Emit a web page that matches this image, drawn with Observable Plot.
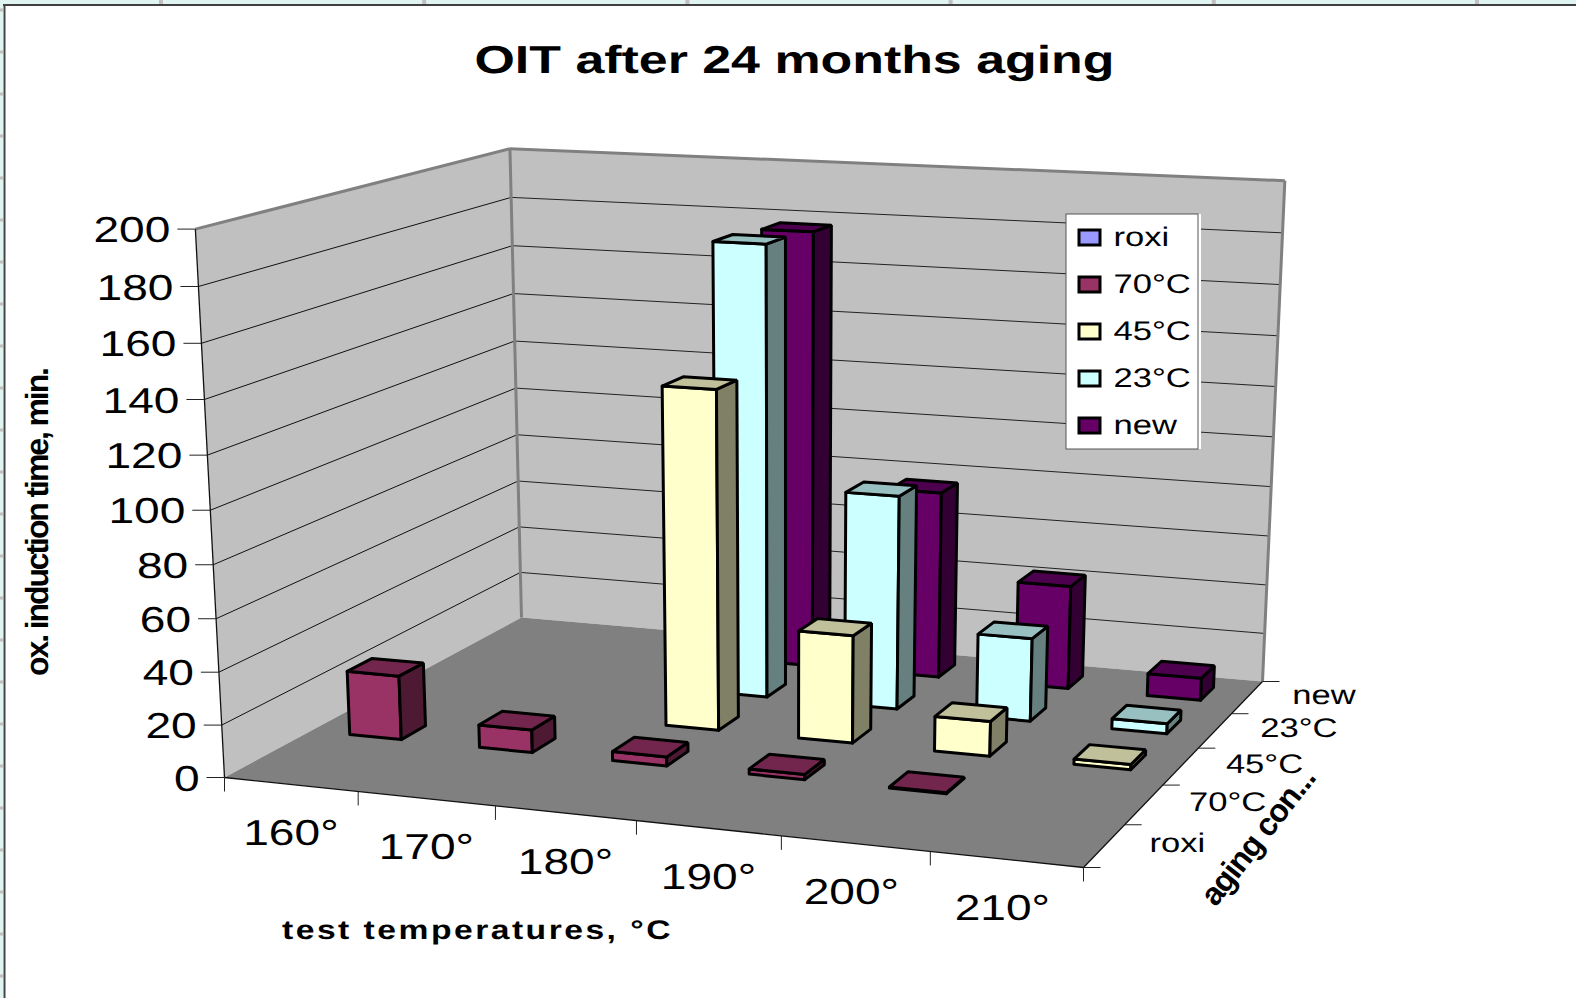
<!DOCTYPE html>
<html><head><meta charset="utf-8">
<style>html,body{margin:0;padding:0;background:#fff;overflow:hidden}svg{display:block;text-rendering:geometricPrecision}</style>
<script src="https://cdn.jsdelivr.net/npm/d3@7"></script>
<script src="https://cdn.jsdelivr.net/npm/@observablehq/plot@0.6"></script>
</head><body><div id="chart"></div>
<script>
// ---- data ----
const temperatures = ["160°","170°","180°","190°","200°","210°"];
const seriesNames  = ["roxi","70°C","45°C","23°C","new"];
const roxi = [null,null,null,null,null,null];
const c70  = [25,8.8,3.5,2,0.4,null];
const c45  = [null,null,132,42,13.5,2];
const c23  = [null,null,179,85,33,4];
const cNew = [null,null,177,76,42,9];
const seriesValues = [roxi,c70,c45,c23,cNew];
const yTicks = [0,20,40,60,80,100,120,140,160,180,200];
const seriesColors = ["#9999FF","#993366","#FFFFCC","#CCFFFF","#660066"];
const topColors    = ["#7373C0","#73264D","#C0C09A","#99C0C0","#4D004D"];
const sideColors   = ["#4D4D80","#4D1933","#808066","#668080","#330033"];

// ---- camera: where the plot cube's corners fall on the page ----
const floorFL=[224,777], floorFR=[1083,867], floorBR=[1262,681], floorBL=[521,617];
const topFL=[194,229], topBL=[510.5,148], topBR=[1284,180];
const yMax=200, barShare=0.4;
const cam=(()=>{
  const [x0,y0]=floorFL,[x1,y1]=floorFR,[x2,y2]=floorBR,[x3,y3]=floorBL;
  const dx1=x1-x2,dx2=x3-x2,sx=x0-x1+x2-x3,dy1=y1-y2,dy2=y3-y2,sy=y0-y1+y2-y3;
  const den=dx1*dy2-dx2*dy1, g=(sx*dy2-dx2*sy)/den, h=(dx1*sy-sx*dy1)/den;
  const a=x1-x0+g*x1,b=x3-x0+h*x3,d=y1-y0+g*y1,e=y3-y0+h*y3;
  const rows=[],rhs=[];
  [[0,0,topFL],[0,1,topBL],[1,1,topBR]].forEach(([u,v,[X,Y]])=>{
    const W=g*u+h*v+1;
    rows.push([1,0,-X]);rhs.push(X*W-(a*u+b*v+x0));
    rows.push([0,1,-Y]);rhs.push(Y*W-(d*u+e*v+y0));
  });
  const A=[0,1,2].map(i=>[0,1,2].map(j=>d3.sum(rows,r=>r[i]*r[j])));
  const B=[0,1,2].map(i=>d3.sum(rows,(r,k)=>r[i]*rhs[k]));
  const det=m=>m[0][0]*(m[1][1]*m[2][2]-m[1][2]*m[2][1])-m[0][1]*(m[1][0]*m[2][2]-m[1][2]*m[2][0])+m[0][2]*(m[1][0]*m[2][1]-m[1][1]*m[2][0]);
  const D=det(A);
  const sol=[0,1,2].map(c=>det(A.map((r,i)=>r.map((q,j)=>j===c?B[i]:q)))/D);
  return {a,b,d,e,g,h,x0,y0,cx:sol[0],cy:sol[1],cw:sol[2]};
})();
function P(u,v,val){
  const t=val/yMax, w=cam.g*u+cam.h*v+cam.cw*t+1;
  return [(cam.a*u+cam.b*v+cam.cx*t+cam.x0)/w,(cam.d*u+cam.e*v+cam.cy*t+cam.y0)/w];
}

// ---- polygons ----
const polys=[];
function face(id,fill,corners){
  [...corners,corners[0],corners[1]].forEach(c=>{const [x,y]=P(...c);polys.push({id,fill,x,y});});
}
const nT=temperatures.length,nS=seriesNames.length;
for(let j=nS-1;j>=0;j--){
  for(let i=0;i<nT;i++){
    const val=seriesValues[j][i]; if(val==null) continue;
    const u0=(i+.5-barShare/2)/nT,u1=(i+.5+barShare/2)/nT,v0=(j+.5-barShare/2)/nS,v1=(j+.5+barShare/2)/nS;
    face(`f${j}${i}`,seriesColors[j],[[u0,v0,0],[u1,v0,0],[u1,v0,val],[u0,v0,val]]);
    face(`s${j}${i}`,sideColors[j],[[u1,v0,0],[u1,v1,0],[u1,v1,val],[u1,v0,val]]);
    face(`t${j}${i}`,topColors[j],[[u0,v0,val],[u1,v0,val],[u1,v1,val],[u0,v1,val]]);
  }
}
const link=(pts)=>({x1:pts[0][0],y1:pts[0][1],x2:pts[1][0],y2:pts[1][1]});
const gridLeft=yTicks.slice(1,-1).map(t=>link([P(0,0,t),P(0,1,t)]));
const gridBack=yTicks.slice(1,-1).map(t=>link([P(0,1,t),P(1,1,t)]));
const wallEdges=[link([P(0,0,yMax),P(0,1,yMax)]),link([P(0,1,yMax),P(1,1,yMax)]),link([P(0,1,0),P(0,1,yMax)]),link([P(1,1,0),P(1,1,yMax)])];
const floorEdges=[link([P(0,0,0),P(1,0,0)]),link([P(1,0,0),P(1,1,0)]),link([P(0,0,0),P(0,0,yMax)])];
const yTickData=yTicks.map(t=>{const [x,y]=P(0,0,t);return {t,x,y};});
const xTickData=d3.range(nT+1).map(i=>{const [x,y]=P(i/nT,0,0);return {x,y};});
const zTickData=d3.range(nS+1).map(j=>{const [x,y]=P(1,j/nS,0);return {x,y};});
const xLabels=temperatures.map((s,i)=>{const [x,y]=P((i+.5)/nT,0,0);return {s,x:i>=4?x-4:x,y};});
const zLabels=seriesNames.map((s,j)=>{const [x,y]=P(1,(j+.5)/nS,0);return {s,x,y};});
const wallPoly=[];
[["L",[[0,0,0],[0,1,0],[0,1,yMax],[0,0,yMax]]],["B",[[0,1,0],[1,1,0],[1,1,yMax],[0,1,yMax]]]].forEach(([id,c])=>c.forEach(q=>{const [x,y]=P(...q);wallPoly.push({id,x,y});}));
const floorPoly=[[0,0,0],[1,0,0],[1,1,0],[0,1,0]].map(q=>{const [x,y]=P(...q);return {x,y};});

// ---- legend ----
const legendBox={x1:1066,x2:1198,y1:214,y2:449};
const legendRows=seriesNames.map((s,k)=>({s,fill:seriesColors[k],y:237+47*k}));
const topMarks=d3.range(6).map(k=>161+263.2*k), leftMarks=d3.range(24).map(k=>10+42*k);

const pos={x:{domain:[0,1576],range:[0,1576],axis:null},y:{domain:[0,998],range:[0,998],axis:null}};
const F="Liberation Sans";
const svg=Plot.plot({
  width:1576,height:998,margin:0,...pos,
  style:{fontFamily:F,background:"#fff",color:"#000"},
  marks:[
    // window chrome
    Plot.rect([0],{x1:0,x2:1576,y1:0,y2:4,fill:"#E0F5F1"}),
    Plot.rect([0],{x1:0,x2:3,y1:0,y2:998,fill:"#E0F5F1"}),
    Plot.rect(topMarks,{x1:d=>d-2,x2:d=>d+2,y1:0,y2:4,fill:"#C4BFBF"}),
    Plot.rect(leftMarks,{x1:0,x2:3,y1:d=>d-1.5,y2:d=>d+1.5,fill:"#C4BFBF"}),
    Plot.ruleY([4.5],{x1:3,x2:1576,stroke:"#000",strokeWidth:1.5}),
    Plot.ruleX([4],{y1:4,y2:998,stroke:"#444",strokeWidth:2}),
    // walls, floor
    Plot.line(wallPoly,{x:"x",y:"y",z:"id",fill:"#C0C0C0",stroke:"none"}),
    Plot.line(floorPoly,{x:"x",y:"y",fill:"#808080",stroke:"none"}),
    Plot.link(gridLeft,{x1:"x1",y1:"y1",x2:"x2",y2:"y2",stroke:"#111",strokeWidth:1}),
    Plot.link(gridBack,{x1:"x1",y1:"y1",x2:"x2",y2:"y2",stroke:"#222",strokeWidth:1}),
    Plot.link(wallEdges,{x1:"x1",y1:"y1",x2:"x2",y2:"y2",stroke:"#808080",strokeWidth:3}),
    Plot.link(floorEdges,{x1:"x1",y1:"y1",x2:"x2",y2:"y2",stroke:"#111",strokeWidth:1.3}),
    // bars
    Plot.line(polys,{x:"x",y:"y",z:"id",fill:"fill",stroke:"#000",strokeWidth:3,strokeLinejoin:"miter",curve:"linear"}),
    // ticks
    Plot.link(yTickData,{x1:d=>d.x-18,x2:"x",y1:"y",y2:"y",stroke:"#222",strokeWidth:1}),
    Plot.link(xTickData,{x1:"x",x2:"x",y1:"y",y2:d=>d.y+14,stroke:"#222",strokeWidth:1}),
    Plot.link(zTickData,{x1:"x",x2:d=>d.x+17,y1:"y",y2:"y",stroke:"#222",strokeWidth:1}),
    // tick labels
    Plot.text(yTickData,{x:d=>d.x-25,y:d=>d.y+1.5,text:d=>String(d.t),textAnchor:"end",fontSize:36,className:"st",lineAnchor:"middle"}),
    Plot.text(xLabels,{x:"x",y:d=>d.y+49,text:"s",fontSize:36,className:"st",lineAnchor:"middle"}),
    Plot.text(zLabels,{x:d=>d.x+45,y:d=>d.y-2,text:"s",textAnchor:"start",fontSize:27,className:"st",lineAnchor:"middle"}),
    // titles
    Plot.text(["OIT after 24 months aging"],{x:794,y:60,text:d=>d,fontSize:39,fontWeight:"bold",className:"ttl",lineAnchor:"middle"}),
    Plot.text(["test temperatures, °C"],{x:477,y:930,text:d=>d,fontSize:27,fontWeight:"bold",className:"xt",lineAnchor:"middle"}),
    Plot.text(["ox. induction time, min."],{x:37,y:521,text:d=>d,fontSize:32,fontWeight:"bold",rotate:-90,className:"yt",lineAnchor:"middle"}),
    Plot.text(["aging con..."],{x:1258,y:836,text:d=>d,fontSize:32,fontWeight:"bold",rotate:-52,className:"zt",lineAnchor:"middle"}),
    // legend
    Plot.rect([0],{x1:legendBox.x1,x2:legendBox.x2+3,y1:legendBox.y1,y2:legendBox.y2,fill:"#fff"}),
    Plot.rect([0],{x1:legendBox.x1,x2:legendBox.x2,y1:legendBox.y1,y2:legendBox.y2,fill:"#fff",stroke:"#555",strokeWidth:1}),
    Plot.rect(legendRows,{x1:()=>1079,x2:()=>1100,y1:d=>d.y-7,y2:d=>d.y+8,fill:"fill",stroke:"#000",strokeWidth:3}),
    Plot.text(legendRows,{x:()=>1113,y:"y",text:"s",textAnchor:"start",fontSize:27,className:"st",lineAnchor:"middle"})
  ]
});
document.getElementById("chart").appendChild(svg);
const s=d3.select(svg);
s.selectAll(".st text").each(function(){
  this.setAttribute("textLength",this.getComputedTextLength()*1.28);
  this.setAttribute("lengthAdjust","spacingAndGlyphs");
});
const fit=(cls,len,adj)=>s.selectAll(cls+" text").each(function(){
  this.setAttribute("textLength",len);this.setAttribute("lengthAdjust",adj);
});
fit(".ttl",640,"spacingAndGlyphs");
s.selectAll(".xt text").style("letter-spacing","2px");
fit(".xt",391,"spacingAndGlyphs");
fit(".yt",309,"spacing");
fit(".zt",165,"spacing");
</script></body></html>
